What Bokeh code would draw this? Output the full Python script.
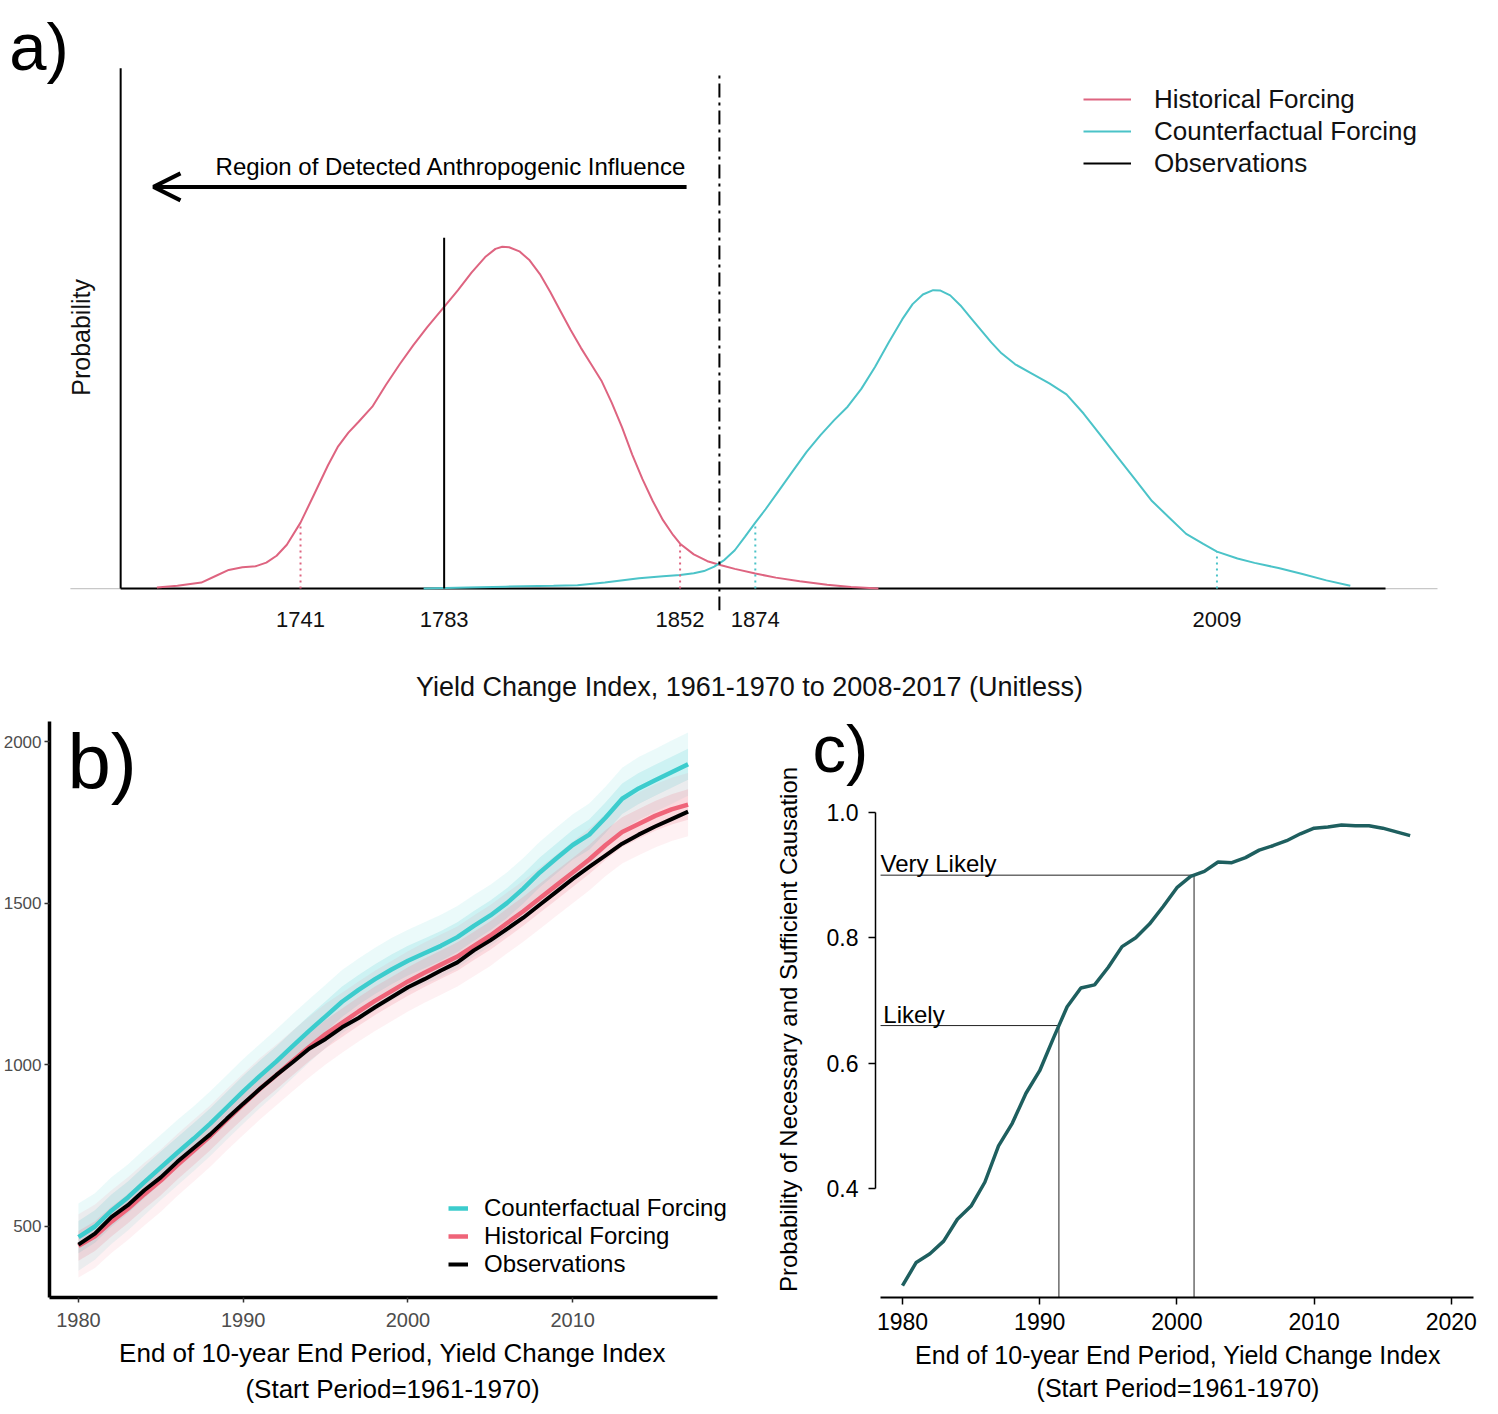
import numpy as np
from bokeh.plotting import figure
from bokeh.models import (Range1d, FixedTicker, Label, Arrow, OpenHead, Legend, LegendItem,
                          LinearAxis, PrintfTickFormatter)
from bokeh.layouts import column, row
from bokeh.embed import file_html
from bokeh.resources import INLINE
from bokeh.core.properties import value

FONT = "Liberation Sans"

# ---------------- panel a data (density curves) ----------------
hist_x = [1699, 1705, 1712, 1716, 1720, 1724, 1728, 1731, 1734, 1737, 1741, 1745, 1749, 1752,
          1755, 1758, 1762, 1766, 1770, 1774, 1778, 1783, 1787, 1791, 1795, 1798, 1800, 1802,
          1805, 1808, 1811, 1814, 1817, 1820, 1823, 1826, 1829, 1832, 1835, 1838, 1841, 1844,
          1847, 1850, 1852, 1856, 1860, 1864, 1868, 1874, 1880, 1887, 1895, 1902, 1910]
hist_d = [0.00004, 0.00010, 0.00022, 0.00045, 0.00068, 0.00078, 0.00082, 0.00095, 0.00120,
          0.00160, 0.00241, 0.00345, 0.00450, 0.00520, 0.00570, 0.00610, 0.00665, 0.00745,
          0.00820, 0.00890, 0.00955, 0.01030, 0.01090, 0.01155, 0.01212, 0.01242, 0.01250,
          0.01248, 0.01233, 0.01200, 0.01150, 0.01085, 0.01015, 0.00945, 0.00880, 0.00820,
          0.00760, 0.00680, 0.00590, 0.00490, 0.00400, 0.00320, 0.00250, 0.00195, 0.00164,
          0.00125, 0.00100, 0.00085, 0.00072, 0.00055, 0.00040, 0.00027, 0.00014, 0.00006, 0.0]
cf_x = [1777, 1790, 1801, 1815, 1822, 1830, 1840, 1847, 1852, 1856, 1859, 1862, 1865, 1868,
        1871, 1874, 1877, 1881, 1885, 1889, 1893, 1897, 1901, 1905, 1909, 1913, 1917, 1920,
        1923, 1926, 1928, 1931, 1934, 1937, 1940, 1943, 1946, 1950, 1955, 1960, 1965, 1970,
        1975, 1980, 1985, 1990, 1995, 2000, 2005, 2009, 2015, 2020, 2027, 2034, 2041, 2048]
cf_d = [0.0, 0.00004, 0.00007, 0.00010, 0.00012, 0.00022, 0.00038, 0.00045, 0.00050, 0.00056,
        0.00064, 0.00080, 0.00105, 0.00140, 0.00190, 0.00241, 0.00290, 0.00360, 0.00430,
        0.00500, 0.00560, 0.00615, 0.00665, 0.00730, 0.00810, 0.00900, 0.00985, 0.01040,
        0.01075, 0.01091, 0.01090, 0.01072, 0.01035, 0.00990, 0.00945, 0.00900, 0.00860,
        0.00820, 0.00785, 0.00750, 0.00710, 0.00640, 0.00560, 0.00480, 0.00400, 0.00320,
        0.00260, 0.00200, 0.00163, 0.00135, 0.00110, 0.00094, 0.00075, 0.00053, 0.00030, 0.00010]
obs_index = 1783
obs_line_top = 0.01283
detect_threshold = 1863.5
hist_q = [1741, 1852]
cf_q = [1874, 2009]
a_ticks = [1741, 1783, 1852, 1874, 2009]

# ---------------- panel b data (time series) ----------------
years = list(range(1980, 2018))
obs = [444, 478, 529, 566, 612, 652, 700, 743, 785, 833,
       880, 925, 968, 1008, 1050, 1080, 1116, 1145, 1178, 1209,
       1240, 1265, 1292, 1317, 1354, 1385, 1420, 1455, 1495, 1535,
       1575, 1612, 1648, 1684, 1712, 1737, 1760, 1783]
cf_med = [467, 500, 549, 590, 637, 683, 728, 772, 818, 868,
          918, 965, 1010, 1058, 1105, 1150, 1195, 1232, 1265, 1295,
          1322, 1345, 1368, 1395, 1430, 1462, 1500, 1545, 1595, 1638,
          1680, 1712, 1765, 1823, 1855, 1880, 1905, 1930]
hist_med = [440, 470, 515, 555, 600, 642, 690, 735, 780, 830,
            878, 925, 968, 1012, 1055, 1095, 1130, 1165, 1198, 1228,
            1258, 1285, 1310, 1335, 1368, 1400, 1438, 1475, 1515, 1555,
            1595, 1635, 1680, 1720, 1745, 1770, 1790, 1805]
cf_spread_out = [104, 103, 103, 102, 102, 101, 101, 100, 100, 100,
                 100, 99, 99, 99, 98, 98, 98, 97, 97, 97,
                 96, 96, 96, 96, 95, 95, 95, 95, 95, 95,
                 95, 96, 96, 96, 97, 97, 98, 98]
cf_spread_in = [50, 50, 50, 49, 49, 49, 48, 48, 48, 48,
                48, 48, 47, 47, 47, 47, 47, 46, 46, 46,
                46, 46, 46, 46, 46, 46, 46, 46, 46, 46,
                46, 47, 47, 47, 48, 48, 48, 48]
hist_spread_out = [98, 98, 97, 97, 97, 96, 96, 96, 95, 95,
                   95, 95, 94, 94, 94, 94, 93, 93, 93, 93,
                   93, 93, 93, 93, 94, 94, 94, 94, 95, 95,
                   95, 96, 96, 97, 97, 98, 98, 98]
hist_spread_in = [46, 46, 46, 45, 45, 45, 45, 45, 44, 44,
                  44, 44, 44, 44, 44, 44, 44, 44, 44, 44,
                  44, 44, 44, 44, 44, 44, 45, 45, 45, 45,
                  45, 45, 46, 46, 46, 46, 47, 47]
b_xticks = [1980, 1990, 2000, 2010]
b_yticks = [500, 1000, 1500, 2000]

# ---------------- panel c data ----------------
pnsc = [0.245, 0.282, 0.296, 0.316, 0.351, 0.372, 0.410, 0.468, 0.504, 0.552,
        0.588, 0.640, 0.690, 0.720, 0.725, 0.753, 0.786, 0.800, 0.822, 0.850,
        0.880, 0.898, 0.906, 0.921, 0.920, 0.928, 0.940, 0.947, 0.955, 0.966,
        0.975, 0.977, 0.980, 0.979, 0.979, 0.975, 0.969, 0.963]
thresholds = [0.66, 0.90]
threshold_names = ["Likely", "Very Likely"]
c_xticks = [1980, 1990, 2000, 2010, 2020]
c_yticks = [0.4, 0.6, 0.8, 1.0]

XLAB1 = "End of 10-year End Period, Yield Change Index"
XLAB2 = "(Start Period=1961-1970)"
YLAB_C = "Probability of Necessary and Sufficient Causation"

HIST_A = "#DE6480"
CF_A = "#4BC3C8"
HIST_B = "#EF6479"
CF_B = "#3CCCCD"
TEAL = "#1E5F5F"

# shared borders of the lower plots (bokeh aligns frames in a row)
ROW_TOP = 17
ROW_BOTTOM = 109
ROW_H = 702


def title_only_axis(p, text, size, standoff, side):
    ax2 = LinearAxis(ticker=FixedTicker(ticks=[]), axis_label=text)
    ax2.axis_line_color = None
    ax2.major_tick_line_color = None
    ax2.minor_tick_line_color = None
    ax2.major_tick_out = 0
    ax2.major_tick_in = 0
    ax2.major_label_standoff = 0
    ax2.axis_label_standoff = standoff
    ax2.axis_label_text_font = FONT
    ax2.axis_label_text_font_size = size
    ax2.axis_label_text_font_style = "normal"
    ax2.axis_label_text_color = "black"
    p.add_layout(ax2, side)


# ======================= panel a =======================
pa = figure(width=1482, height=696, x_range=Range1d(1655.6, 2089.0),
            y_range=Range1d(-0.000802, 0.021208), y_axis_location=None,
            output_backend="svg", toolbar_location=None,
            min_border_left=0, min_border_right=0, min_border_top=0, min_border_bottom=92)
pa.margin = (0, 0, 0, 8)
pa.outline_line_color = None
pa.grid.visible = False
ax = pa.xaxis[0]
ax.ticker = FixedTicker(ticks=a_ticks)
ax.axis_line_color = None
ax.major_tick_line_color = None
ax.minor_tick_line_color = None
ax.major_tick_out = 0
ax.major_tick_in = 0
ax.major_label_standoff = 1
ax.major_label_text_font = FONT
ax.major_label_text_font_size = "22px"
ax.major_label_text_color = "#111111"
ax.axis_label = "Yield Change Index, 1961-1970 to 2008-2017 (Unitless)"
ax.axis_label_text_font = FONT
ax.axis_label_text_font_size = "27px"
ax.axis_label_text_font_style = "normal"
ax.axis_label_text_color = "#111111"
ax.axis_label_standoff = 42

pa.segment(x0=[1673.7], y0=[0], x1=[2073.5], y1=[0], line_color="#C8C8C8", line_width=1.2)
pa.segment(x0=[1688.4], y0=[0], x1=[2058.3], y1=[0], line_color="black", line_width=2)
pa.segment(x0=[1688.4], y0=[0], x1=[1688.4], y1=[0.01902], line_color="black", line_width=2)

r_hist = pa.line(hist_x, hist_d, line_color=HIST_A, line_width=2)
r_cf = pa.line(cf_x, cf_d, line_color=CF_A, line_width=2)

hq_top = [float(np.interp(q, hist_x, hist_d)) for q in hist_q]
cq_top = [float(np.interp(q, cf_x, cf_d)) for q in cf_q]
pa.segment(x0=hist_q, y0=[0] * len(hist_q), x1=hist_q, y1=hq_top,
           line_color=HIST_A, line_width=2, line_dash="2 4")
pa.segment(x0=cf_q, y0=[0] * len(cf_q), x1=cf_q, y1=cq_top,
           line_color=CF_A, line_width=2, line_dash="2 4")

r_obs = pa.segment(x0=[obs_index], y0=[0], x1=[obs_index], y1=[obs_line_top],
                   line_color="black", line_width=2)
pa.segment(x0=[detect_threshold], y0=[-0.000802], x1=[detect_threshold], y1=[0.01888],
           line_color="black", line_width=2, line_dash="14 5 3 5")

pa.add_layout(Arrow(end=OpenHead(size=27, line_width=4, line_color="black"),
                    x_start=1853.9, y_start=0.014685, x_end=1698.0, y_end=0.014685,
                    line_width=4, line_color="black"))
pa.add_layout(Label(x=1853.9, y=0.015414, text="Region of Detected Anthropogenic Influence",
                    text_align="right", text_baseline="middle", text_font=FONT,
                    text_font_size="24px", text_color="black"))
pa.add_layout(Label(x=1676.7, y=0.009183, text="Probability", angle=np.pi / 2,
                    text_align="center", text_baseline="middle", text_font=FONT,
                    text_font_size="25px", text_color="#111111"))
pa.add_layout(Label(x=1655.8, y=0.019823, text="a)", text_align="left",
                    text_baseline="middle", text_font=FONT, text_font_size="67px",
                    text_color="black"))

leg_a = Legend(items=[LegendItem(label="Historical Forcing", renderers=[r_hist]),
                      LegendItem(label="Counterfactual Forcing", renderers=[r_cf]),
                      LegendItem(label="Observations", renderers=[r_obs])],
               location=(1075, 431), orientation="vertical",
               glyph_width=48, glyph_height=32, label_height=32, label_standoff=23,
               spacing=0, padding=0, margin=0, border_line_color=None,
               background_fill_alpha=0, label_text_font=FONT,
               label_text_font_size="26px", label_text_color="#111111")
pa.add_layout(leg_a)

# ======================= panel b =======================
pb = figure(width=740, height=ROW_H, x_range=Range1d(1978.242, 2019.879),
            y_range=Range1d(280.4, 2061.9),
            output_backend="svg", toolbar_location=None,
            min_border_left=48, min_border_right=5, min_border_top=ROW_TOP,
            min_border_bottom=ROW_BOTTOM)
pb.outline_line_color = None
pb.grid.visible = False

yr = np.array(years, float)
cfm = np.array(cf_med, float)
him = np.array(hist_med, float)
pb.varea(x=yr, y1=cfm - np.array(cf_spread_out), y2=cfm + np.array(cf_spread_out),
         fill_color=CF_B, fill_alpha=0.10)
pb.varea(x=yr, y1=cfm - np.array(cf_spread_in), y2=cfm + np.array(cf_spread_in),
         fill_color=CF_B, fill_alpha=0.17)
pb.varea(x=yr, y1=him - np.array(hist_spread_out), y2=him + np.array(hist_spread_out),
         fill_color=HIST_B, fill_alpha=0.09)
pb.varea(x=yr, y1=him - np.array(hist_spread_in), y2=him + np.array(hist_spread_in),
         fill_color=HIST_B, fill_alpha=0.17)
r_cfm = pb.line(yr, cfm, line_color=CF_B, line_width=4.5)
r_him = pb.line(yr, him, line_color=HIST_B, line_width=4.5)
r_obsb = pb.line(yr, obs, line_color="black", line_width=4)

for a in (pb.xaxis[0], pb.yaxis[0]):
    a.axis_line_color = "black"
    a.axis_line_width = 3.5
    a.major_tick_line_color = "#333333"
    a.major_tick_line_width = 1.5
    a.major_tick_out = 5
    a.major_tick_in = 0
    a.minor_tick_line_color = None
    a.major_label_text_font = FONT
    a.major_label_text_color = "#4D4D4D"
pb.xaxis[0].major_label_text_font_size = "20px"
pb.yaxis[0].major_label_text_font_size = "17px"
pb.xaxis[0].ticker = FixedTicker(ticks=b_xticks)
pb.yaxis[0].ticker = FixedTicker(ticks=b_yticks)
pb.xaxis[0].bounds = (1978.242, 2018.79)
pb.xaxis[0].major_label_standoff = 10
pb.yaxis[0].major_label_standoff = 3
pb.xaxis[0].axis_label = XLAB1
pb.xaxis[0].axis_label_text_font = FONT
pb.xaxis[0].axis_label_text_font_size = "26px"
pb.xaxis[0].axis_label_text_font_style = "normal"
pb.xaxis[0].axis_label_text_color = "black"
pb.xaxis[0].axis_label_standoff = 8
title_only_axis(pb, XLAB2, "26px", 3, "below")

pb.add_layout(Label(x=1979.33, y=1936.6, text="b)", text_align="left",
                    text_baseline="middle", text_font=FONT, text_font_size="78px",
                    text_color="black"))
leg_b = Legend(items=[LegendItem(label="Counterfactual Forcing", renderers=[r_cfm]),
                      LegendItem(label="Historical Forcing", renderers=[r_him]),
                      LegendItem(label="Observations", renderers=[r_obsb])],
               location=(399, 19), orientation="vertical",
               glyph_width=20, glyph_height=28, label_height=28, label_standoff=16,
               spacing=0, padding=0, margin=0, border_line_color=None,
               background_fill_alpha=0, label_text_font=FONT,
               label_text_font_size="24px", label_text_color="black")
pb.add_layout(leg_b)

# ============ strip holding panel c's tag and y title ============
c_yrange = (0.22610, 1.14520)
pt = figure(width=140, height=ROW_H, x_range=Range1d(1968.192, 1978.397),
            y_range=Range1d(*c_yrange), x_axis_location=None, y_axis_location=None,
            output_backend="svg", toolbar_location=None,
            min_border_left=0, min_border_right=0, min_border_top=ROW_TOP,
            min_border_bottom=ROW_BOTTOM)
pt.outline_line_color = None
pt.grid.visible = False
pt.add_layout(Label(x=1971.69, y=0.65374, text=YLAB_C, angle=np.pi / 2,
                    text_align="center", text_baseline="middle",
                    text_font=FONT, text_font_size="24px", text_color="black"))
pt.add_layout(Label(x=1973.44, y=1.1029, text="c)", text_align="left",
                    text_baseline="middle", text_font=FONT, text_font_size="67px",
                    text_color="black"))

# ======================= panel c =======================
pc = figure(width=675, height=ROW_H, x_range=Range1d(1978.032, 2022.128),
            y_range=Range1d(*c_yrange),
            output_backend="svg", toolbar_location=None,
            min_border_left=60, min_border_right=10, min_border_top=ROW_TOP,
            min_border_bottom=ROW_BOTTOM)
pc.margin = (0, 0, 0, -65)
pc.background_fill_alpha = 0
pc.border_fill_alpha = 0
pc.outline_line_color = None
pc.grid.visible = False

p_arr = np.array(pnsc)
cross = [float(np.interp(t, p_arr[:24], yr[:24])) for t in thresholds]
x_left = 1978.4
y_bottom = c_yrange[0]
pc.segment(x0=[x_left] * len(thresholds), y0=thresholds, x1=cross, y1=thresholds,
           line_color="#222222", line_width=1)
pc.segment(x0=cross, y0=[y_bottom] * len(thresholds), x1=cross, y1=thresholds,
           line_color="#222222", line_width=1)
pc.text(x=[x_left + 0.2, x_left], y=[t + 0.018 for t in thresholds], text=threshold_names,
        text_font=value(FONT), text_font_size="24px", text_baseline="middle",
        text_align="left", text_color="black")
pc.line(yr, pnsc, line_color=TEAL, line_width=3.5)

xa = pc.xaxis[0]
ya = pc.yaxis[0]
xa.ticker = FixedTicker(ticks=c_xticks)
ya.ticker = FixedTicker(ticks=c_yticks)
ya.formatter = PrintfTickFormatter(format="%.1f")
xa.bounds = (x_left, 2021.6)
ya.bounds = (0.4, 1.0)
xa.axis_line_width = 2.2
ya.axis_line_width = 1.5
for a in (xa, ya):
    a.axis_line_color = "black"
    a.major_tick_line_color = "black"
    a.major_tick_line_width = 1.5
    a.major_tick_out = 7
    a.major_tick_in = 0
    a.minor_tick_line_color = None
    a.major_label_text_font = FONT
    a.major_label_text_font_size = "23px"
    a.major_label_text_color = "black"
    a.axis_label_text_font = FONT
    a.axis_label_text_font_size = "25px"
    a.axis_label_text_font_style = "normal"
    a.axis_label_text_color = "black"
xa.major_label_standoff = 8
ya.major_label_standoff = 10
xa.axis_label = XLAB1
xa.axis_label_standoff = 8
title_only_axis(pc, XLAB2, "25px", 2, "below")

layout = column(pa, row(pb, pt, pc))
layout.margin = (8, 0, 0, 0)
open("out.html", "w").write(file_html(layout, INLINE))
